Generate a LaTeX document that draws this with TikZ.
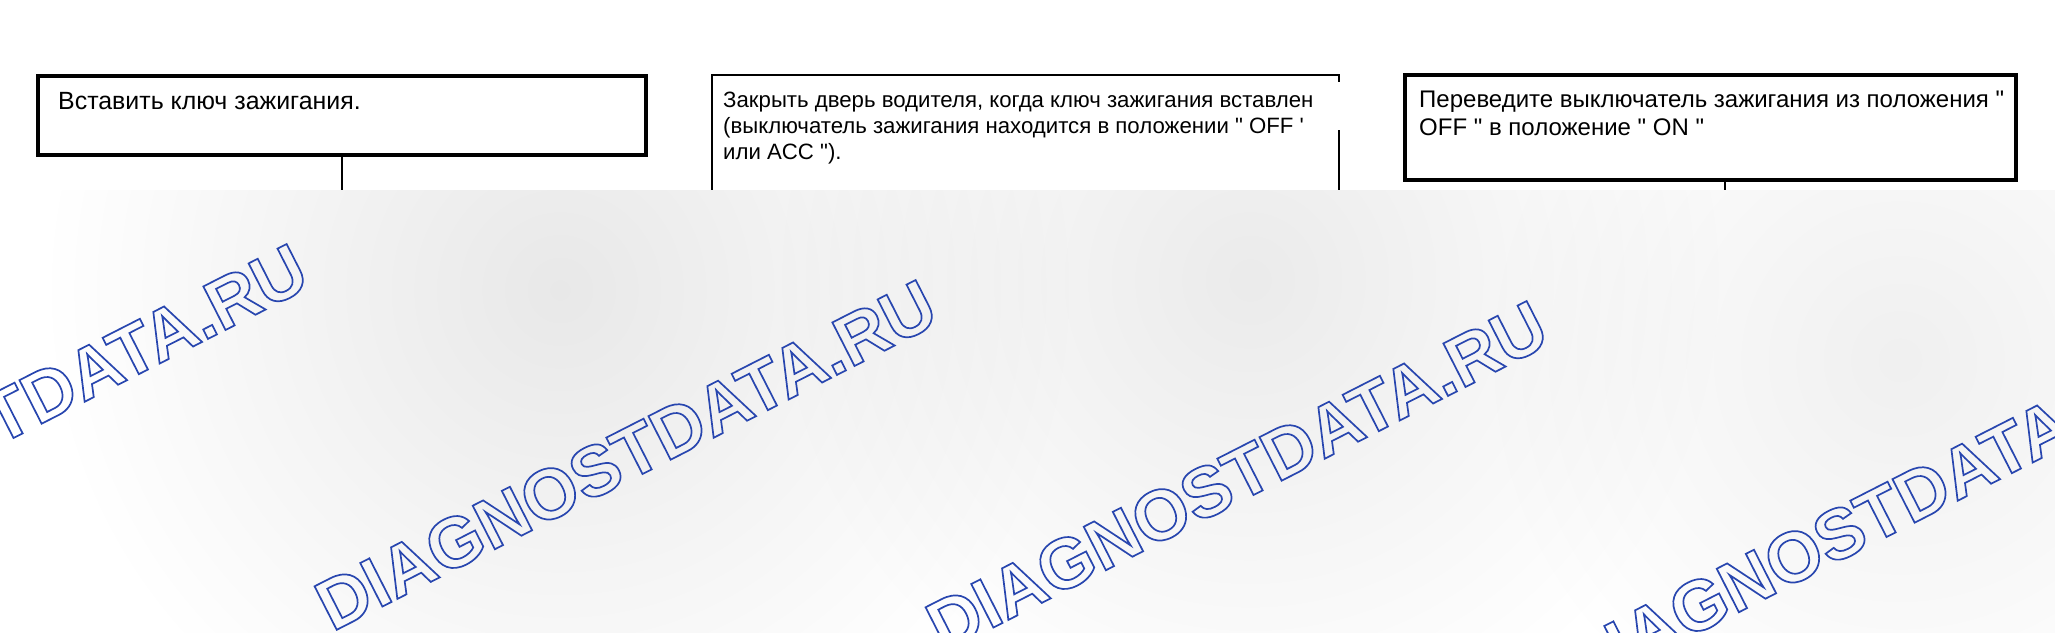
\documentclass[tikz,border=0pt]{standalone}
\usepackage{fontspec}
\setmainfont{Liberation Sans}
\usetikzlibrary{positioning}

% outlined text: stroke only
\newcommand{\wmtext}{\special{pdf:literal direct 1 Tr 1.7 w 0.157 0.275 0.686 RG}DIAGNOSTDATA.RU\special{pdf:literal direct 0 Tr}}

\begin{document}
\begin{tikzpicture}[x=1pt,y=-1pt,
    stepbox/.style={draw=black, line width=3.2pt, anchor=north west, outer sep=0pt, inner sep=0pt},
    steptext/.style={anchor=base west, inner sep=0pt, align=left, font=\fontsize{24.9}{27}\selectfont},
    link/.style={draw=black, line width=2.6pt}]
    \useasboundingbox (0,0) rectangle (2055,632);
    \fill[white] (0,0) rectangle (2055,632);

    % boxes
    \node[stepbox, minimum width=608pt, minimum height=79pt] (insert) at (38,76) {};
    \node[steptext] (inserttext) at (58,109) {Вставить ключ зажигания.};

    \node[stepbox, line width=2.6pt, minimum width=627pt, minimum height=200pt] (door) at (712,75) {};
    %% base of a text with more lines is its last line
    \node[steptext, font=\fontsize{22.2}{26}\selectfont] (doortext) at (723,159)
        {Закрыть дверь водителя, когда ключ зажигания вставлен\\
        (выключатель зажигания находится в положении \textquotedbl{} OFF \textquotesingle\\
        или ACC \textquotedbl).};
    %% gap in the right side of box 2
    \draw[white, line width=4pt] (1339,82) -- (1339,130);

    \node[stepbox, minimum width=611pt, minimum height=105pt] (turnon) at (1405,75) {};
    \node[steptext, font=\fontsize{24}{27.5}\selectfont] (turnontext) at (1419,135)
        {Переведите выключатель зажигания из положения \textquotedbl\\
        OFF \textquotedbl{} в положение \textquotedbl{} ON \textquotedbl};

    % connectors
    \coordinate (insertend) at ([yshift=-60pt]insert.south);
    \coordinate (turnonend) at (1725,200);
    \draw[link] (insert.south) -- (insertend);
    \draw[link] (turnon.south -| turnonend) -- (turnonend);

    % background
    \fill[white] (0,190) rectangle (2055,632);
    \begin{scope}[blend mode=multiply]
        \clip (0,190) rectangle (2055,632);
        \shade[inner color=black!9, outer color=white] (560,290) circle (520);
        \shade[inner color=black!8, outer color=white] (1250,280) circle (480);
        \shade[inner color=black!6, outer color=white] (1900,360) circle (420);
    \end{scope}

    % watermarks
    \foreach \cx/\cy [count=\i] in {-3/419, 626/455, 1237/476, 1870/518}
        \node[rotate=27, inner sep=0pt, font=\fontsize{71}{72}\selectfont\bfseries] (wm\i) at (\cx,\cy) {\wmtext};
\end{tikzpicture}
\end{document}
